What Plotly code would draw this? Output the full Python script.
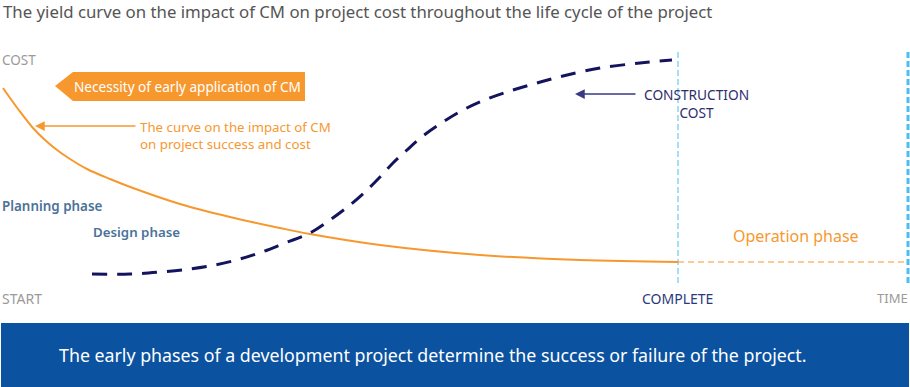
import plotly.graph_objects as go

# ---- data (time / cost positions on the diagram canvas) ----
cm_time = [3, 10, 18, 33, 45, 57, 70, 87, 110, 133, 180, 230, 280, 310, 380, 480, 580, 678]
cm_cost = [88, 98, 109, 128, 140, 150, 159, 169, 179, 188, 204, 217, 228, 234, 245, 255, 260, 262]

op_time = [678, 908]
op_cost = [262, 262]

cc_time = [92, 130, 160, 190, 215, 240, 262, 285, 310, 330, 350, 365, 380, 393, 407,
           423, 443, 463, 487, 513, 537, 563, 600, 640, 672]
cc_cost = [274, 274, 272, 269, 265, 259, 252, 243, 233, 220, 205, 192, 177, 163, 150,
           136, 122, 110, 99, 90, 83, 76, 68, 63, 60]

complete_time = 678
end_time = 908

FONT = "Noto Sans"
ORANGE = "#f7982f"
NAVY = "#14145e"
LBLUE = "#4bbff0"
BANNER = "#0b52a0"
PHASE = "#4b7299"
GRAY = "#9a9a9a"

fig = go.Figure()

fig.add_trace(go.Scatter(x=cm_time, y=cm_cost, mode="lines", line=dict(color=ORANGE, width=2, shape="spline"),
                         hoverinfo="skip"))
fig.add_trace(go.Scatter(x=op_time, y=op_cost, mode="lines", line=dict(color=ORANGE, width=1, dash="6px,4px"),
                         hoverinfo="skip"))
fig.add_trace(go.Scatter(x=cc_time, y=cc_cost, mode="lines",
                         line=dict(color=NAVY, width=3, dash="15px,10px", shape="spline"), hoverinfo="skip"))

shapes = [
    dict(type="line", x0=complete_time, x1=complete_time, y0=52, y1=284,
         line=dict(color=LBLUE, width=1, dash="6px,3px"), layer="below"),
    dict(type="line", x0=end_time, x1=end_time, y0=52, y1=284,
         line=dict(color=LBLUE, width=3, dash="6px,3px"), layer="below"),
    dict(type="rect", x0=1, x1=909, y0=323, y1=387, fillcolor=BANNER, line=dict(width=0)),
    dict(type="path", path="M 55 86 L 73 72 L 305 72 L 305 101 L 73 101 Z",
         fillcolor=ORANGE, line=dict(width=0)),
]

ann = []
def txt(x, y, s, color, size, xanchor="left", yanchor="middle", weight=None, align="left"):
    f = dict(color=color, size=size, family=FONT)
    if weight:
        f["weight"] = weight
    ann.append(dict(x=x, y=y, text=s, showarrow=False, xanchor=xanchor, yanchor=yanchor,
                    font=f, xref="x", yref="y", align=align))

txt(1, 11, "The yield curve on the impact of CM on project cost throughout the life cycle of the project",
    "#555555", 16.8)
txt(0, 60, "COST", GRAY, 13.5)
txt(0, 298, "START", GRAY, 14)
txt(640, 298, "COMPLETE", "#2a3a7a", 14)
txt(910, 298, "TIME", GRAY, 13, xanchor="right")
txt(72, 86, "Necessity of early application of CM", "white", 13.6)
txt(138, 135, "The curve on the impact of CM<br>on project success and cost", ORANGE, 13.3)
txt(696, 103.5, "CONSTRUCTION<br>COST", "#2d2d6e", 13.7, xanchor="center", align="center")
txt(0, 206, "Planning phase", PHASE, 13.4, weight=600)
txt(91, 232, "Design phase", PHASE, 13.3, weight=600)
txt(731, 236, "Operation phase", ORANGE, 16)
txt(432, 355, "The early phases of a development project determine the success or failure of the project.",
    "white", 17.8, xanchor="center")

# arrows
ann.append(dict(x=35, y=126, ax=137, ay=126, xref="x", yref="y", axref="x", ayref="y", text="",
                showarrow=True, arrowhead=2, arrowsize=1.3, arrowwidth=1.5, arrowcolor=ORANGE))
ann.append(dict(x=575, y=94, ax=637, ay=94, xref="x", yref="y", axref="x", ayref="y", text="",
                showarrow=True, arrowhead=2, arrowsize=1.3, arrowwidth=1.5, arrowcolor="#3a3a80"))

fig.update_layout(
    width=910, height=387, margin=dict(l=0, r=0, t=0, b=0),
    paper_bgcolor="white", plot_bgcolor="white", showlegend=False,
    xaxis=dict(range=[0, 910], visible=False, fixedrange=True),
    yaxis=dict(range=[387, 0], visible=False, fixedrange=True),
    shapes=shapes, annotations=ann,
)

fig.write_html("out.html", config={"displayModeBar": False},
               post_script="document.body.style.margin='0';document.body.style.overflow='hidden';")
